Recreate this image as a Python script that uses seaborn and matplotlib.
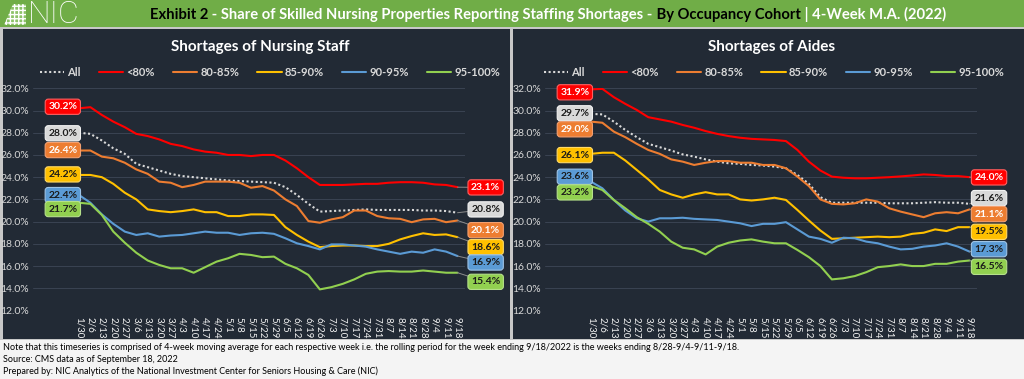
import numpy as np
import pandas as pd
import matplotlib
matplotlib.use("Agg")
import matplotlib.pyplot as plt
import seaborn as sns
from matplotlib.patches import Rectangle, Polygon
from matplotlib.lines import Line2D
from matplotlib.offsetbox import TextArea, HPacker, AnchoredOffsetbox

# ---------------- data ----------------
weeks = ['1/30', '2/6', '2/13', '2/20', '2/27', '3/6', '3/13', '3/20', '3/27', '4/3',
         '4/10', '4/17', '4/24', '5/1', '5/8', '5/15', '5/22', '5/29', '6/5', '6/12',
         '6/19', '6/26', '7/3', '7/10', '7/17', '7/24', '7/31', '8/7', '8/14', '8/21',
         '8/28', '9/4', '9/11', '9/18']
cohorts = ['All', '<80%', '80-85%', '85-90%', '90-95%', '95-100%']

nursing_all = [28.0, 27.9, 27.3, 26.6, 26.1, 25.2, 24.9, 24.6, 24.3, 24.1, 24.0, 23.9, 23.8, 23.7, 23.65, 23.6, 23.55,
               23.5, 23.1, 22.4, 21.6, 20.9, 20.95, 21.0, 21.05, 21.1, 21.05, 21.05, 21.05, 21.05, 21.0, 21.0, 20.95, 20.8]
nursing_lt80 = [30.2, 30.3, 29.6, 29.0, 28.5, 27.9, 27.7, 27.4, 27.0, 26.8, 26.5, 26.3, 26.2, 26.0, 26.0, 25.9, 26.0,
                26.0, 25.5, 24.8, 24.0, 23.3, 23.3, 23.3, 23.35, 23.4, 23.4, 23.5, 23.55, 23.55, 23.5, 23.35, 23.3, 23.1]
nursing_80_85 = [26.4, 26.4, 25.85, 25.7, 25.3, 24.7, 24.3, 23.6, 23.5, 23.1, 23.3, 23.6, 23.6, 23.6, 23.5, 23.05, 23.2,
                 22.8, 22.0, 21.4, 20.05, 19.9, 20.2, 20.4, 21.0, 21.0, 20.5, 20.3, 20.25, 19.95, 20.2, 20.25, 19.95, 20.1]
nursing_85_90 = [24.2, 24.2, 24.0, 23.4, 22.6, 22.0, 21.1, 20.95, 20.85, 20.95, 21.1, 20.85, 20.85, 20.5, 20.5, 20.65,
                 20.65, 20.6, 19.5, 18.8, 18.2, 17.7, 17.8, 17.85, 17.85, 17.8, 17.8, 18.0, 18.4, 18.7, 18.95, 18.8, 18.85, 18.6]
nursing_90_95 = [22.4, 21.7, 20.65, 19.8, 19.1, 18.8, 18.95, 18.65, 18.75, 18.8, 18.95, 19.1, 19.0, 19.0, 18.8, 18.95,
                 19.0, 18.9, 18.5, 18.05, 17.8, 17.5, 17.95, 17.95, 17.85, 17.75, 17.5, 17.3, 17.1, 17.3, 17.2, 17.5, 17.3, 16.9]
nursing_95_100 = [21.7, 21.6, 20.6, 19.1, 18.1, 17.2, 16.5, 16.1, 15.8, 15.8, 15.4, 15.9, 16.4, 16.7, 17.1, 17.0, 16.8,
                  16.85, 16.2, 15.8, 15.2, 13.9, 14.1, 14.4, 14.8, 15.3, 15.5, 15.55, 15.5, 15.5, 15.6, 15.5, 15.4, 15.4]

aides_all = [29.7, 29.65, 29.0, 28.25, 27.6, 27.0, 26.7, 26.4, 26.05, 25.85, 25.6, 25.4, 25.25, 25.2, 25.1, 25.05, 24.95,
             24.8, 24.2, 23.4, 22.2, 21.7, 21.7, 21.7, 21.7, 21.7, 21.65, 21.65, 21.65, 21.7, 21.75, 21.7, 21.7, 21.6]
aides_lt80 = [31.9, 31.95, 31.2, 30.6, 30.05, 29.4, 29.2, 29.0, 28.7, 28.45, 28.15, 27.9, 27.7, 27.55, 27.45, 27.4, 27.35,
              27.25, 26.45, 25.4, 24.6, 24.05, 23.95, 23.9, 23.9, 23.95, 24.0, 24.07, 24.15, 24.25, 24.2, 24.1, 24.1, 24.0]
aides_80_85 = [29.0, 28.9, 28.1, 27.6, 27.0, 26.45, 26.1, 25.6, 25.4, 25.1, 25.3, 25.45, 25.45, 25.3, 25.3, 25.1, 25.1,
               24.8, 24.05, 23.2, 22.0, 21.6, 21.55, 21.65, 22.0, 21.8, 21.2, 20.9, 20.65, 20.4, 20.75, 20.85, 20.75, 21.1]
aides_85_90 = [26.1, 26.2, 26.2, 25.5, 24.65, 23.8, 22.85, 22.45, 22.15, 22.45, 22.65, 22.45, 22.45, 22.0, 21.9, 22.0,
               22.15, 21.95, 21.05, 20.1, 19.2, 18.45, 18.5, 18.55, 18.6, 18.65, 18.6, 18.65, 18.9, 19.0, 19.3, 19.15, 19.5, 19.5]
aides_90_95 = [23.6, 23.0, 21.95, 21.0, 20.3, 20.0, 20.3, 20.3, 20.35, 20.25, 20.2, 20.15, 20.0, 19.85, 19.6, 19.8, 19.8,
               19.95, 19.3, 18.65, 18.45, 18.1, 18.55, 18.5, 18.2, 18.05, 17.75, 17.5, 17.55, 17.75, 17.85, 18.05, 17.75, 17.3]
aides_95_100 = [23.2, 22.85, 21.95, 21.2, 20.4, 19.8, 19.1, 18.2, 17.65, 17.5, 17.05, 17.75, 18.1, 18.3, 18.4, 18.2, 18.05,
                18.05, 17.45, 16.8, 16.0, 14.8, 14.9, 15.1, 15.45, 15.9, 16.0, 16.15, 16.0, 16.0, 16.2, 16.2, 16.4, 16.5]

y_ticks = [12, 14, 16, 18, 20, 22, 24, 26, 28, 30, 32]

# label placement (data-unit y positions of the value boxes, to avoid overlaps)
nursing_left_pos = [27.95, 30.34, 26.44, 24.25, 22.39, 21.13]
nursing_right_pos = [21.1, 23.08, 19.23, 17.70, 16.32, 14.58]
aides_left_pos = [29.75, 31.64, 28.31, 25.99, 24.04, 22.63]
aides_right_pos = [22.12, 23.98, 20.68, 19.08, 17.52, 15.93]

# ---------------- style ----------------
sns.set_theme(style="dark")
plt.rcParams['font.family'] = ['Lato', 'DejaVu Sans']

colors = {'All': '#D9D9D9', '<80%': '#FF0000', '80-85%': '#ED7D31', '85-90%': '#FFC000',
          '90-95%': '#5B9BD5', '95-100%': '#92D050'}
text_on = {'All': '#1a1a1a', '<80%': 'white', '80-85%': 'white', '85-90%': '#1a1a1a',
           '90-95%': '#1a1a1a', '95-100%': '#1a1a1a'}
edge_on = {'All': '#f2f2f2', '<80%': '#ff6060', '80-85%': '#f4a070', '85-90%': '#ffd966',
           '90-95%': '#9dc3e6', '95-100%': '#b5e08a'}
PANEL = '#222A35'
GREEN = '#70AD47'

W, H = 1024, 379
fig = plt.figure(figsize=(W / 100, H / 100), dpi=100, facecolor='#f4f4f4')


def fx(px):
    return px / W


def fy(py):
    return 1 - py / H


def rect(x0, y0, x1, y1, color, z=-10, **kw):
    fig.add_artist(Rectangle((fx(x0), fy(y1)), (x1 - x0) / W, (y1 - y0) / H, transform=fig.transFigure,
                             facecolor=color, edgecolor='none', zorder=z, **kw))


# background blocks
rect(0, 0, W, 27, GREEN)
rect(0, 27, W, 340, '#c8c8c8')
rect(3, 29, 510, 339, PANEL, z=-9)
rect(513, 29, W, 339, PANEL, z=-9)

# NIC logo
fig.add_artist(Rectangle((fx(4), fy(25)), 22 / W, 21 / H, transform=fig.transFigure, facecolor='#8cc268',
                         edgecolor='white', hatch='++++', lw=0, zorder=-8))
fig.add_artist(Polygon([(fx(4), fy(25)), (fx(4), fy(4)), (fx(13), fy(4))], closed=True,
                       transform=fig.transFigure, facecolor=GREEN, edgecolor='none', zorder=-7))
fig.text(fx(28), fy(14.5), 'NIC', fontsize=23, color='white', fontweight='light', va='center', ha='left',
         family=['Roboto', 'DejaVu Sans'])

# title bar
pieces = [("Exhibit 2", 'black'),
          (" - Share of Skilled Nursing Properties Reporting Staffing Shortages -", 'white'),
          (" By Occupancy Cohort", 'black'),
          (" | 4-Week M.A. (2022)", 'white')]
tas = [TextArea(t, textprops=dict(color=c, fontsize=10.6, fontweight='bold')) for t, c in pieces]
pack = HPacker(children=tas, align='baseline', pad=0, sep=0)
fig.add_artist(AnchoredOffsetbox(loc='center', child=pack, pad=0, borderpad=0, frameon=False,
                                 bbox_to_anchor=(fx(548), fy(14)), bbox_transform=fig.transFigure))

# footer
footer = ["Note that this timeseries is comprised of 4-week moving average for each respective week i.e. the rolling "
          "period for the week ending 9/18/2022 is the weeks ending 8/28-9/4-9/11-9/18.",
          "Source: CMS data as of September 18, 2022",
          "Prepared by: NIC Analytics of the National Investment Center for Seniors Housing & Care (NIC)"]
for i, line in enumerate(footer):
    fig.text(fx(3), fy(348 + 11.5 * i), line, fontsize=6.5, color='black', va='center', ha='left')

panels = [
    dict(title='Shortages of Nursing Staff', off=0,
         series=[nursing_all, nursing_lt80, nursing_80_85, nursing_85_90, nursing_90_95, nursing_95_100],
         lpos=nursing_left_pos, rpos=nursing_right_pos, rx=35.45, legx=270),
    dict(title='Shortages of Aides', off=512,
         series=[aides_all, aides_lt80, aides_80_85, aides_85_90, aides_90_95, aides_95_100],
         lpos=aides_left_pos, rpos=aides_right_pos, rx=34.7, legx=774),
]

x_idx = np.arange(len(weeks))
for p in panels:
    off = p['off']
    ax = fig.add_axes([fx(33 + off), fy(310.5), 432 / W, (310.5 - 88.3) / H])
    ax.set_facecolor('none')
    df = pd.concat([pd.DataFrame({'week': x_idx, 'value': vals, 'cohort': c})
                    for c, vals in zip(cohorts, p['series'])], ignore_index=True)
    sns.lineplot(data=df, x='week', y='value', hue='cohort', style='cohort', hue_order=cohorts,
                 style_order=cohorts, palette=colors,
                 dashes={'All': (1, 1.2), '<80%': '', '80-85%': '', '85-90%': '', '90-95%': '', '95-100%': ''},
                 linewidth=1.5, ax=ax, legend=False)
    ax.set_xlim(-4.0, 33.65)
    ax.set_ylim(12, 32)
    ax.set_yticks(y_ticks)
    ax.set_yticklabels([f"{v:.1f}%" for v in y_ticks])
    ax.set_xticks(x_idx)
    ax.set_xticklabels(weeks)
    ax.tick_params(axis='y', colors='#d9d9d9', labelsize=7.5, length=0, pad=3)
    ax.tick_params(axis='x', colors='#f2f2f2', labelsize=7, length=0, pad=5, labelrotation=270)
    ax.grid(axis='y', color='#3a4352', lw=0.7)
    ax.grid(axis='x', visible=False)
    for s in ax.spines.values():
        s.set_visible(False)
    ax.set_xlabel('')
    ax.set_ylabel('')

    handles = [Line2D([], [], color=colors[c], lw=1.5,
                      linestyle=(0, (1, 1.2)) if c == 'All' else '-') for c in cohorts]
    fig.legend(handles, cohorts, loc='center', bbox_to_anchor=(fx(p['legx']), fy(72)), ncol=6, frameon=False,
               fontsize=8, labelcolor='#d9d9d9', handlelength=2.2, handletextpad=0.3, columnspacing=1.6,
               prop={'weight': 'bold', 'size': 8})

    fig.text(fx(off + 260), fy(47), p['title'], fontsize=11, fontweight='bold', color='white',
             ha='center', va='center')

    for i, c in enumerate(cohorts):
        vals = p['series'][i]
        for idx, lab_x, lab_y in [(0, -1.4, p['lpos'][i]), (len(vals) - 1, p['rx'], p['rpos'][i])]:
            v = vals[idx]
            ax.annotate(f"{v:.1f}%", xy=(idx, v), xytext=(lab_x, lab_y), ha='center', va='center',
                        fontsize=7.5, fontweight='bold', color=text_on[c],
                        bbox=dict(boxstyle='round,pad=0.3,rounding_size=0.3', fc=colors[c], ec=edge_on[c], lw=0.8),
                        arrowprops=dict(arrowstyle='-', color='#8c8c8c', lw=0.7, shrinkA=0, shrinkB=0),
                        annotation_clip=False, zorder=5)

fig.savefig('out.png', dpi=100, facecolor=fig.get_facecolor())
